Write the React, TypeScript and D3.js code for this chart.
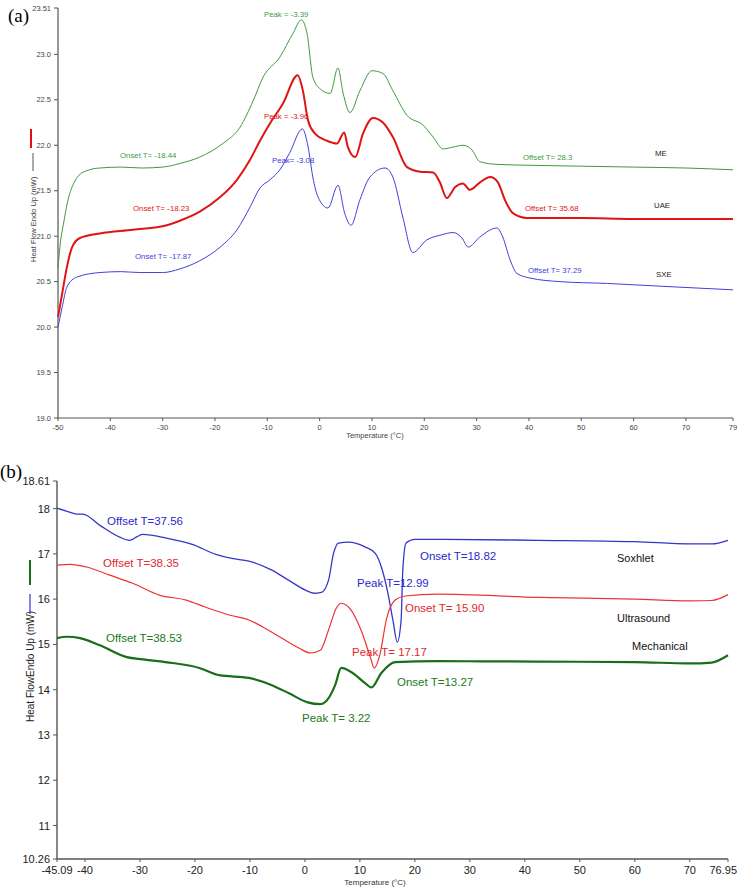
import React from "react";
import * as d3 from "d3";

type P = [number, number];

// ---------- Panel (a) data ----------
const meA: P[] = [[-50,20.65],[-49.5,20.95],[-49,21.12],[-48,21.42],[-47,21.58],[-46,21.67],[-44,21.73],[-42,21.75],[-38,21.76],[-34,21.75],[-30,21.76],[-26.7,21.8],[-22.9,21.87],[-18.5,22.02],[-15.2,22.2],[-12.7,22.49],[-10.8,22.75],[-7.6,22.97],[-5.1,23.23],[-3.5,23.38],[-2.4,23.23],[-1.3,22.75],[0.1,22.62],[2.0,22.57],[3.5,22.85],[4.5,22.57],[5.8,22.36],[7.7,22.6],[10.0,22.82],[12.1,22.79],[14.0,22.6],[16.7,22.33],[19.8,22.22],[21.7,22.09],[23.6,21.96],[25.5,21.98],[27.4,22.0],[29.1,21.95],[30.6,21.82],[33.9,21.79],[40,21.78],[50,21.77],[60,21.76],[70,21.75],[79,21.73]];
const uaeA: P[] = [[-50,20.11],[-49.2,20.37],[-48.3,20.66],[-47.3,20.88],[-45.8,20.98],[-42,21.03],[-35.7,21.07],[-29.2,21.12],[-26.7,21.17],[-22.9,21.27],[-19.0,21.43],[-15.8,21.62],[-13.3,21.84],[-11.4,22.05],[-9.5,22.24],[-7.0,22.46],[-4.2,22.77],[-3.2,22.6],[-2.2,22.27],[-0.9,22.13],[1.4,22.05],[3.3,22.02],[4.7,22.14],[5.4,21.98],[6.8,21.87],[8.3,22.13],[10.2,22.3],[12.1,22.25],[14.0,22.09],[16.7,21.76],[19.2,21.71],[21.7,21.7],[23.0,21.59],[24.3,21.42],[25.9,21.54],[27.4,21.58],[28.7,21.51],[30.6,21.59],[32.6,21.65],[34.1,21.59],[35.4,21.4],[37.0,21.25],[39.6,21.2],[50,21.2],[60,21.19],[70,21.19],[79,21.19]];
const sxeA: P[] = [[-50,20.0],[-49.2,20.22],[-48.3,20.44],[-46.4,20.55],[-42,20.6],[-38,20.61],[-34.3,20.6],[-30,20.6],[-26.7,20.64],[-22.9,20.73],[-19.0,20.88],[-15.8,21.07],[-13.3,21.32],[-11.4,21.53],[-9.5,21.62],[-7.6,21.73],[-5.7,21.92],[-3.3,22.18],[-2.2,21.98],[-1.3,21.65],[-0.3,21.43],[1.6,21.31],[3.5,21.56],[4.8,21.25],[6.0,21.12],[7.7,21.4],[9.6,21.65],[12.5,21.75],[14.0,21.65],[15.9,21.21],[17.8,20.82],[20.5,20.96],[23.0,21.01],[25.5,21.04],[27.2,20.98],[28.4,20.88],[30.6,20.99],[33.9,21.09],[35.0,20.99],[36.4,20.74],[37.7,20.59],[40.2,20.54],[45.9,20.5],[55,20.48],[65,20.45],[79,20.41]];
const xTicksA = [-50, -40, -30, -20, -10, 0, 10, 20, 30, 40, 50, 60, 70, 79];
const yTicksA = [19.0, 19.5, 20.0, 20.5, 21.0, 21.5, 22.0, 22.5, 23.0, 23.51];

// ---------- Panel (b) data ----------
const soxB: P[] = [[-45.09,18.01],[-43,17.93],[-41.5,17.88],[-40.4,17.88],[-37.3,17.63],[-33.7,17.37],[-31.9,17.3],[-30.5,17.38],[-29.5,17.43],[-25.2,17.35],[-20.5,17.21],[-16.2,16.99],[-13.3,16.9],[-10.2,16.84],[-6.0,16.64],[-3.0,16.42],[0.1,16.2],[1.6,16.13],[3.0,16.15],[4.3,16.42],[5.2,17.01],[6.1,17.24],[7.9,17.26],[11.0,17.15],[12.8,17.01],[13.9,16.71],[15.1,16.13],[16.0,15.54],[16.8,15.05],[17.5,15.54],[17.8,16.64],[18.4,17.24],[20.0,17.32],[24.2,17.32],[42.3,17.3],[60,17.27],[70,17.22],[74,17.22],[76.95,17.3]];
const ultB: P[] = [[-45.09,16.75],[-42.7,16.77],[-39.7,16.71],[-35.5,16.53],[-31.3,16.35],[-26.5,16.09],[-21.6,15.98],[-18.0,15.82],[-13.8,15.65],[-10.2,15.54],[-6.0,15.27],[-1.1,14.92],[1.0,14.81],[2.8,14.87],[4.3,15.32],[5.7,15.8],[6.6,15.91],[8.4,15.76],[10.2,15.32],[11.9,14.72],[12.6,14.48],[13.7,14.81],[14.8,15.54],[16.4,15.98],[18.2,16.07],[24.2,16.11],[42.3,16.04],[60,16.0],[70,15.96],[74,15.97],[76.95,16.1]];
const mecB: P[] = [[-45.09,15.14],[-43.3,15.17],[-40.9,15.14],[-37.3,14.98],[-32.4,14.72],[-29.5,14.67],[-24.1,14.59],[-19.2,14.48],[-15.6,14.32],[-10.2,14.26],[-6,14.1],[-2.9,13.92],[0.5,13.72],[2.8,13.68],[4.5,13.85],[5.5,14.1],[6.6,14.48],[8.4,14.39],[11.0,14.14],[12.1,14.05],[13.9,14.37],[16.4,14.61],[24.2,14.63],[42.3,14.62],[60,14.61],[70,14.58],[74,14.6],[76.95,14.76]];
const xTicksB = [-45.09, -40, -30, -20, -10, 0, 10, 20, 30, 40, 50, 60, 70, 76.95];
const yTicksB = [10.26, 11, 12, 13, 14, 15, 16, 17, 18, 18.61];

const FONT = "'Liberation Sans', Arial, sans-serif";

export default function App() {
  // Panel (a) scales
  const xA = d3.scaleLinear().domain([-50, 79]).range([58, 733]);
  const yA = d3.scaleLinear().domain([19, 23.51]).range([418, 8]);
  const lineA = d3.line<P>().x(d => xA(d[0])).y(d => yA(d[1])).curve(d3.curveMonotoneX);

  // Panel (b) scales
  const xB = d3.scaleLinear().domain([-45.09, 76.95]).range([57, 728]);
  const yB = d3.scaleLinear().domain([10.26, 18.61]).range([859, 481]);
  const lineB = d3.line<P>().x(d => xB(d[0])).y(d => yB(d[1])).curve(d3.curveMonotoneX);

  const axisCol = "#555";

  return (
    <svg width={738} height={887} style={{ position: "absolute", left: 0, top: 0, background: "#fff" }} fontFamily={FONT}>
      {/* ===== Panel (a) ===== */}
      <text x={8} y={22} fontFamily="'Liberation Serif', 'Times New Roman', serif" fontSize={19} fill="#000">(a)</text>
      <line x1={58} x2={58} y1={yA(23.51)} y2={418} stroke={axisCol} strokeWidth={1.2} />
      <line x1={58} x2={733} y1={418} y2={418} stroke={axisCol} strokeWidth={1.2} />
      {yTicksA.map(v => (
        <g key={"ya" + v}>
          <line x1={54} x2={58} y1={yA(v)} y2={yA(v)} stroke={axisCol} />
          <text x={51} y={yA(v) + 2.5} textAnchor="end" fontSize={7.5} fill="#444">{v === 23.51 ? "23.51" : v.toFixed(1)}</text>
        </g>
      ))}
      {xTicksA.map(v => (
        <g key={"xa" + v}>
          <line x1={xA(v)} x2={xA(v)} y1={418} y2={421} stroke={axisCol} />
          <text x={xA(v)} y={430} textAnchor="middle" fontSize={7.5} fill="#444">{String(v)}</text>
        </g>
      ))}
      <text x={375} y={438} textAnchor="middle" fontSize={7.5} fill="#444">Temperature (°C)</text>
      <text transform="translate(36,262) rotate(-90)" fontSize={7.5} fill="#444">Heat Flow Endo Up (mW)</text>
      <line x1={33} x2={33} y1={153} y2={171} stroke="#555" strokeWidth={1} />
      <line x1={31} x2={31} y1={129} y2={148} stroke="#e01010" strokeWidth={2} />

      <path d={lineA(meA) || ""} fill="none" stroke="#3f9a3f" strokeWidth={1} />
      <path d={lineA(uaeA) || ""} fill="none" stroke="#e01414" strokeWidth={2} />
      <path d={lineA(sxeA) || ""} fill="none" stroke="#4040d8" strokeWidth={1} />

      <g fontSize={7.8}>
        <text x={264} y={17} fill="#3f9a3f">Peak = -3.39</text>
        <text x={264} y={119} fill="#e01414">Peak = -3.96</text>
        <text x={272} y={163} fill="#4040d8">Peak= -3.08</text>
        <text x={120} y={158} fill="#3f9a3f">Onset T= -18.44</text>
        <text x={133} y={211} fill="#e01414">Onset T= -18.23</text>
        <text x={135} y={259} fill="#4040d8">Onset T= -17.87</text>
        <text x={523} y={160} fill="#3f9a3f">Offset T= 28.3</text>
        <text x={525} y={211} fill="#e01414">Offset T= 35.68</text>
        <text x={528} y={273} fill="#4040d8">Offset T= 37.29</text>
        <text x={655} y={156} fill="#222">ME</text>
        <text x={654} y={208} fill="#222">UAE</text>
        <text x={656} y={277} fill="#222">SXE</text>
      </g>

      {/* ===== Panel (b) ===== */}
      <text x={0} y={478} fontFamily="'Liberation Serif', 'Times New Roman', serif" fontSize={19} fill="#000">(b)</text>
      <line x1={57} x2={57} y1={yB(18.61)} y2={859} stroke={axisCol} strokeWidth={1.4} />
      <line x1={57} x2={728} y1={859} y2={859} stroke={axisCol} strokeWidth={1.4} />
      {yTicksB.map(v => (
        <g key={"yb" + v}>
          <line x1={53} x2={57} y1={yB(v)} y2={yB(v)} stroke={axisCol} />
          <text x={50} y={yB(v) + 4} textAnchor="end" fontSize={11} fill="#222">{String(v)}</text>
        </g>
      ))}
      {xTicksB.map(v => (
        <g key={"xb" + v}>
          <line x1={xB(v)} x2={xB(v)} y1={859} y2={862} stroke={axisCol} />
          <text x={v === 76.95 ? 737 : xB(v)} y={874} textAnchor={v === 76.95 ? "end" : "middle"} fontSize={11} fill="#222">{String(v)}</text>
        </g>
      ))}
      <text x={375} y={885} textAnchor="middle" fontSize={8} fill="#333">Temperature (°C)</text>
      <text transform="translate(34,722) rotate(-90)" fontSize={10} fill="#222">Heat FlowEndo Up (mW)</text>
      <line x1={30} x2={30} y1={594} y2={614} stroke="#3333cc" strokeWidth={1.2} />
      <line x1={30} x2={30} y1={560} y2={585} stroke="#1a6e1a" strokeWidth={2} />

      <path d={lineB(soxB) || ""} fill="none" stroke="#3535cc" strokeWidth={1.3} />
      <path d={lineB(ultB) || ""} fill="none" stroke="#ee3333" strokeWidth={1.2} />
      <path d={lineB(mecB) || ""} fill="none" stroke="#1a6e1a" strokeWidth={2.2} />

      <g fontSize={11.5}>
        <text x={107} y={525} fill="#2a2acc">Offset T=37.56</text>
        <text x={103} y={567} fill="#e02a2a">Offset T=38.35</text>
        <text x={106} y={642} fill="#1a7a1a">Offset T=38.53</text>
        <text x={420} y={560} fill="#2a2acc">Onset T=18.82</text>
        <text x={357} y={587} fill="#2a2acc">Peak T=12.99</text>
        <text x={405} y={612} fill="#e02a2a">Onset T= 15.90</text>
        <text x={352} y={656} fill="#e02a2a">Peak T= 17.17</text>
        <text x={397} y={686} fill="#1a7a1a">Onset T=13.27</text>
        <text x={302} y={722} fill="#1a7a1a">Peak T= 3.22</text>
        <text x={617} y={562} fill="#111" fontSize={11}>Soxhlet</text>
        <text x={617} y={622} fill="#111" fontSize={11}>Ultrasound</text>
        <text x={632} y={650} fill="#111" fontSize={11}>Mechanical</text>
      </g>
    </svg>
  );
}
